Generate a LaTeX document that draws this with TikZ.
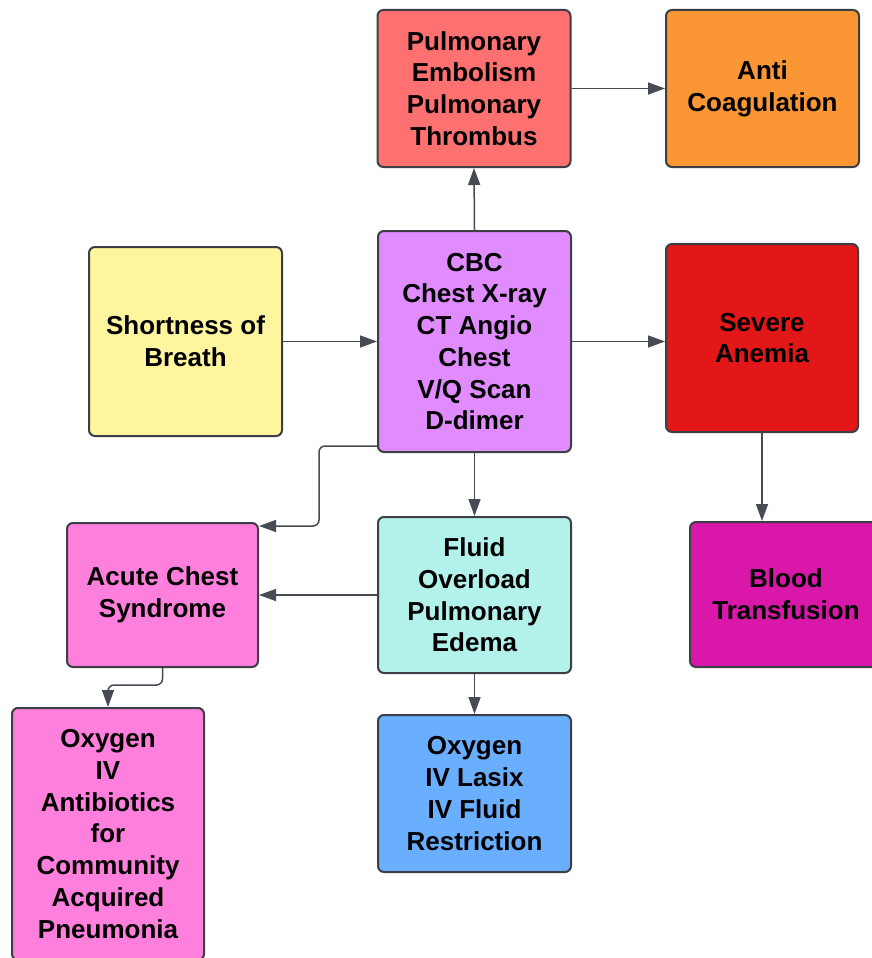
\documentclass[tikz,border=0pt]{standalone}
\usepackage{fontspec}
\setmainfont{Liberation Sans}
\usetikzlibrary{arrows.meta}
\definecolor{cPE}{HTML}{FF7070}
\definecolor{cAnti}{HTML}{FA9633}
\definecolor{cSob}{HTML}{FFF59E}
\definecolor{cCbc}{HTML}{E08CFF}
\definecolor{cSev}{HTML}{E31717}
\definecolor{cAcs}{HTML}{FF80DC}
\definecolor{cFluid}{HTML}{B3F2EB}
\definecolor{cBlood}{HTML}{D918AA}
\definecolor{cLasix}{HTML}{6AAEFF}
\definecolor{cEdge}{HTML}{3C3F45}
\definecolor{cArr}{HTML}{464B54}
\tikzset{
  box/.style={draw=cEdge, line width=2pt, rounded corners=6pt, align=center,
    inner sep=0pt, font=\fontsize{26}{31.7}\selectfont\bfseries, text=black},
  arr/.style={draw=cArr, line width=1.5pt, -{Triangle[length=17pt,width=12pt]}}
}
\begin{document}
\begin{tikzpicture}[x=1pt,y=-1pt]
\useasboundingbox (0,0) rectangle (872,958);
\fill[white] (0,0) rectangle (872,958);

\node[box, fill=cPE, minimum width=193pt, minimum height=157pt] (pe) at (474,88.5)
  {Pulmonary\\Embolism\\Pulmonary\\Thrombus};
\node[box, fill=cAnti, minimum width=193pt, minimum height=157pt] (anti) at (762.5,88.5)
  {Anti\\Coagulation};
\node[box, fill=cSob, minimum width=193pt, minimum height=189pt] (sob) at (185.5,341.5)
  {Shortness of\\Breath};
\node[box, fill=cCbc, minimum width=193pt, minimum height=221pt] (cbc) at (474.5,341.5)
  {CBC\\Chest X-ray\\CT Angio\\Chest\\V/Q Scan\\D-dimer};
\node[box, fill=cSev, minimum width=192pt, minimum height=188pt] (sev) at (762,338)
  {Severe\\Anemia};
\node[box, fill=cAcs, minimum width=191pt, minimum height=144pt] (acs) at (162.5,595)
  {Acute Chest\\Syndrome};
\node[box, fill=cFluid, minimum width=193pt, minimum height=156pt] (fluid) at (474.5,595)
  {Fluid\\Overload\\Pulmonary\\Edema};
\node[box, fill=cBlood, minimum width=192pt, minimum height=145pt] (blood) at (786,594.5)
  {Blood\\Transfusion};
\node[box, fill=cAcs, minimum width=192pt, minimum height=252pt] (oxy) at (108,834)
  {Oxygen\\IV\\Antibiotics\\for\\Community\\Acquired\\Pneumonia};
\node[box, fill=cLasix, minimum width=193pt, minimum height=157pt] (lasix) at (474.5,793.5)
  {Oxygen\\IV Lasix\\IV Fluid\\Restriction};

\draw[arr] (sob.east) -- (cbc.west);
\draw[arr] (cbc.north) -- (pe.south);
\draw[arr] (pe.east) -- (anti.west);
\draw[arr] (cbc.east) -- (cbc.east -| sev.west);
\draw[arr] (sev.south) -- (sev.south |- blood.north);
\draw[arr] (cbc.south) -- (fluid.north);
\draw[arr] (fluid.west) -- (fluid.west -| acs.east);
\draw[arr] (fluid.south) -- (lasix.north);
\draw[arr, rounded corners=6pt] ([yshift=7pt]cbc.south west)
  -| ([xshift=60pt,yshift=-4pt]acs.north east) -- ([yshift=-4pt]acs.north east);
\draw[arr, rounded corners=6pt] (acs.south) |- ([yshift=22pt]oxy.north) -- (oxy.north);
\end{tikzpicture}
\end{document}
